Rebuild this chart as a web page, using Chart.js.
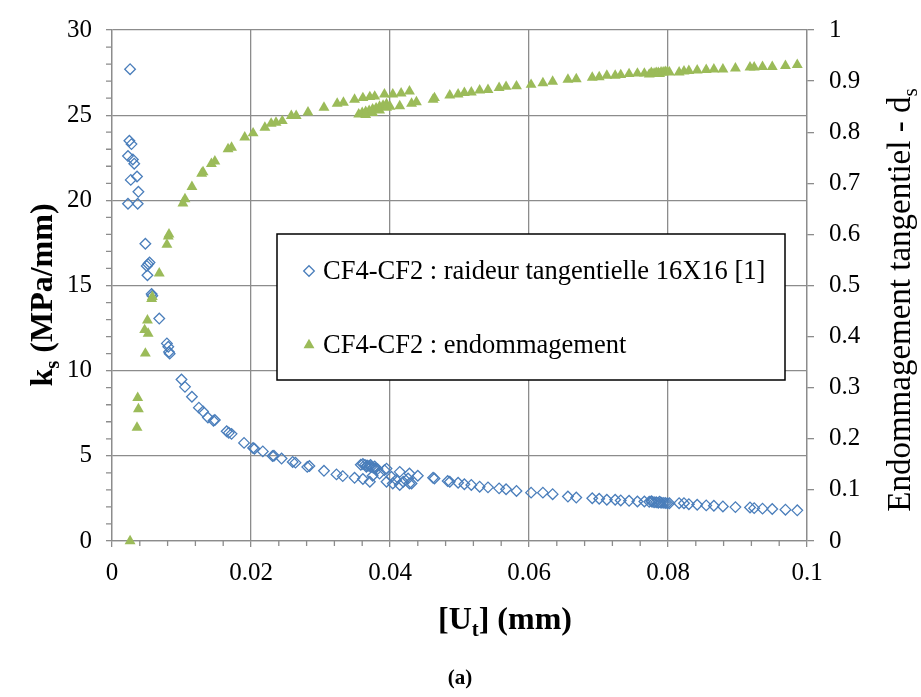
<!doctype html>
<html lang="fr">
  <head>
    <meta charset="utf-8">
    <title>ks / endommagement</title>
    <style>
      body { margin: 0; background: #fff; }
      .chartBox { width: 921px; height: 697px; }
    </style>
  </head>
  <body>
    <div class="chartBox">
      <canvas id="myChart"></canvas>
    </div>
    <script src="https://cdn.jsdelivr.net/npm/chart.js/dist/chart.umd.min.js"></script>
    <script>
    // raideur tangentielle ks (MPa/mm) vs [Ut] (mm)
    const ksU = [0.0026, 0.0025, 0.0028, 0.0023, 0.0030, 0.0032, 0.0027, 0.0036, 0.0038, 0.0023, 0.0037,
      0.0048, 0.0050, 0.0054, 0.0052, 0.0051, 0.0057, 0.0058, 0.0068, 0.0079, 0.0081, 0.0083, 0.0082,
      0.0100, 0.0105, 0.0115, 0.0125, 0.0131, 0.0138, 0.0146, 0.0148, 0.0165, 0.0168, 0.0172, 0.0190,
      0.0203, 0.0205, 0.0217, 0.0231, 0.0233, 0.0244, 0.0260, 0.0264, 0.0281, 0.0284, 0.0305, 0.0323,
      0.0332, 0.0349, 0.0361,
      0.0358, 0.0361, 0.0364, 0.0367, 0.0370, 0.0373, 0.0376, 0.0379, 0.0366, 0.0372, 0.0378, 0.0382,
      0.0371, 0.0375, 0.0385, 0.0392, 0.0395, 0.0395, 0.0402, 0.0404, 0.0409, 0.0414, 0.0414, 0.0419,
      0.0426, 0.0428, 0.0428, 0.0431, 0.0440, 0.0462, 0.0464, 0.0483, 0.0486, 0.0498, 0.0507, 0.0517,
      0.0529, 0.0541, 0.0557, 0.0567, 0.0582, 0.0603, 0.0620, 0.0634, 0.0656, 0.0668, 0.0691, 0.0701,
      0.0712, 0.0724, 0.0732, 0.0744, 0.0756, 0.0766,
      0.0773, 0.0776, 0.0777, 0.0780, 0.0783, 0.0786, 0.0788, 0.0790, 0.0793, 0.0796, 0.0799, 0.0802,
      0.0816, 0.0823, 0.0830, 0.0842, 0.0855, 0.0866, 0.0879, 0.0897, 0.0918, 0.0924, 0.0936, 0.0950,
      0.0969, 0.0986];
    const ksVal = [27.7, 23.5, 23.3, 22.6, 22.4, 22.15, 21.2, 21.4, 20.5, 19.8, 19.8,
      17.45, 16.15, 16.35, 16.25, 15.6, 14.5, 14.4, 13.06, 11.6, 11.4, 11.0, 11.1,
      9.48, 9.05, 8.47, 7.83, 7.6, 7.25, 7.06, 7.1, 6.44, 6.35, 6.29, 5.76,
      5.46, 5.42, 5.26, 4.99, 5.0, 4.84, 4.64, 4.6, 4.35, 4.4, 4.12, 3.91,
      3.81, 3.71, 3.64,
      4.48, 4.52, 4.47, 4.43, 4.40, 4.35, 4.30, 4.27, 4.36, 4.46, 4.38, 4.22,
      3.48, 3.83, 3.96, 4.16, 4.25, 3.48, 3.77, 3.38, 3.58, 4.06, 3.29, 3.48,
      3.67, 3.38, 3.96, 3.38, 3.83, 3.71, 3.67, 3.52, 3.48, 3.42, 3.33, 3.29,
      3.19, 3.15, 3.09, 3.04, 2.94, 2.84, 2.84, 2.75, 2.61, 2.55, 2.51, 2.48,
      2.42, 2.42, 2.38, 2.36, 2.32, 2.32,
      2.30, 2.34, 2.30, 2.28, 2.27, 2.25, 2.30, 2.25, 2.24, 2.23, 2.22, 2.22,
      2.22, 2.22, 2.16, 2.13, 2.09, 2.07, 2.03, 1.99, 1.97, 1.93, 1.90, 1.88,
      1.84, 1.80];

    // endommagement tangentiel ds vs [Ut] (mm)
    const dU = [0.0026, 0.0036, 0.0038, 0.0037, 0.0048, 0.0052, 0.0047, 0.0051, 0.0057, 0.0058, 0.0068,
      0.0079, 0.0081, 0.0082, 0.0102, 0.0105, 0.0115, 0.0129, 0.0131, 0.0143, 0.0148, 0.0167, 0.0172,
      0.0191, 0.0203, 0.0220, 0.0229, 0.0236, 0.0245, 0.0258, 0.0265, 0.0282, 0.0305, 0.0324, 0.0333,
      0.0349, 0.0361, 0.0371, 0.0378, 0.0392, 0.0404, 0.0416, 0.0428,
      0.0355, 0.0360, 0.0365, 0.0370, 0.0375, 0.0380, 0.0385, 0.0390, 0.0395, 0.0365, 0.0375, 0.0385,
      0.0395, 0.0400, 0.0414, 0.0431, 0.0438, 0.0462,
      0.0464, 0.0486, 0.0498, 0.0507, 0.0517, 0.0529, 0.0541, 0.0557, 0.0567, 0.0582, 0.0603, 0.0620,
      0.0634, 0.0656, 0.0668, 0.0691, 0.0701, 0.0712, 0.0724, 0.0732, 0.0744, 0.0756, 0.0766,
      0.0773, 0.0776, 0.0777, 0.0780, 0.0783, 0.0786, 0.0788, 0.0790, 0.0793, 0.0796, 0.0799, 0.0802,
      0.0816, 0.0823, 0.0830, 0.0842, 0.0855, 0.0866, 0.0879, 0.0897, 0.0918, 0.0924, 0.0936, 0.0950,
      0.0969, 0.0986];
    const dVal = [0.0, 0.222, 0.258, 0.28, 0.367, 0.406, 0.413, 0.432, 0.474, 0.478, 0.524,
      0.58, 0.596, 0.60, 0.661, 0.669, 0.693, 0.719, 0.722, 0.738, 0.743, 0.767, 0.770,
      0.790, 0.798, 0.809, 0.817, 0.819, 0.822, 0.832, 0.832, 0.839, 0.848, 0.856, 0.858,
      0.864, 0.867, 0.869, 0.870, 0.874, 0.874, 0.876, 0.880,
      0.835, 0.838, 0.840, 0.842, 0.845, 0.847, 0.850, 0.852, 0.855, 0.834, 0.838, 0.843,
      0.848, 0.850, 0.851, 0.856, 0.859, 0.864,
      0.867, 0.872, 0.874, 0.877, 0.878, 0.882, 0.883, 0.887, 0.889, 0.890, 0.893, 0.896,
      0.899, 0.903, 0.904, 0.907, 0.908, 0.911, 0.911, 0.912, 0.914, 0.915, 0.915,
      0.913, 0.916, 0.914, 0.915, 0.916, 0.916, 0.914, 0.917, 0.917, 0.918, 0.918, 0.917,
      0.917, 0.919, 0.920, 0.921, 0.922, 0.923, 0.923, 0.925, 0.927, 0.927, 0.928, 0.928,
      0.930, 0.932];

    const xTickLabels = ['0', '0.02', '0.04', '0.06', '0.08', '0.1'];
    const yTickLabels = ['0', '5', '10', '15', '20', '25', '30'];
    const y2TickLabels = ['0', '0.1', '0.2', '0.3', '0.4', '0.5', '0.6', '0.7', '0.8', '0.9', '1'];

    const seriesNames = ['CF4-CF2 : raideur tangentielle 16X16 [1]', 'CF4-CF2 : endommagement'];

    const FONT = '"Liberation Serif", "Times New Roman", serif';
    const GRID = '#8c8c8c';

    // text with subscript parts, drawn centred on (cx, baseline cy)
    function richWidth(ctx, parts, size, weight) {
      let w = 0;
      parts.forEach(p => {
        ctx.font = weight + ' ' + (p.sub ? size * 0.65 : size) + 'px ' + FONT;
        w += ctx.measureText(p.t).width;
      });
      return w;
    }
    function drawRich(ctx, parts, size, weight, cx, cy, angle) {
      ctx.save();
      ctx.translate(cx, cy);
      ctx.rotate(angle);
      let x = -richWidth(ctx, parts, size, weight) / 2;
      ctx.fillStyle = '#000';
      ctx.textBaseline = 'alphabetic';
      ctx.textAlign = 'left';
      parts.forEach(p => {
        ctx.font = weight + ' ' + (p.sub ? size * 0.65 : size) + 'px ' + FONT;
        ctx.fillText(p.t, x, p.sub ? size * 0.22 : 0);
        x += ctx.measureText(p.t).width;
      });
      ctx.restore();
    }

    const decorPlugin = {
      id: 'decor',
      afterDraw(chart) {
        const ctx = chart.ctx;
        const a = chart.chartArea;
        const sx = chart.scales.x, sy = chart.scales.y;

        // minor ticks
        ctx.save();
        ctx.strokeStyle = GRID;
        ctx.lineWidth = 1.3;
        ctx.beginPath();
        for (let i = 1; i < 25; i++) {
          if (i % 5 === 0) continue;
          const px = sx.getPixelForValue(i * 0.004);
          ctx.moveTo(px, a.bottom);
          ctx.lineTo(px, a.bottom + 5);
        }
        for (let i = 1; i < 30; i++) {
          if (i % 5 === 0) continue;
          const py = sy.getPixelForValue(i);
          ctx.moveTo(a.left, py);
          ctx.lineTo(a.left - 6, py);
        }
        ctx.stroke();
        ctx.restore();

        // axis titles
        drawRich(ctx, [{t: 'k'}, {t: 's', sub: true}, {t: ' (MPa/mm)'}], 32, 'bold', 52, 295, -Math.PI / 2);
        drawRich(ctx, [{t: 'Endommagement tangentiel - d'}, {t: 's', sub: true}], 33, 'normal', 910, 300, -Math.PI / 2);
        drawRich(ctx, [{t: '[U'}, {t: 't', sub: true}, {t: '] (mm)'}], 32, 'bold', 505, 629, 0);
        drawRich(ctx, [{t: '(a)'}], 21, 'bold', 460, 684, 0);

        // legend box
        const lx = a.left + 165, ly = a.top + 204, lw = 508, lh = 146;
        ctx.save();
        ctx.fillStyle = '#fff';
        ctx.fillRect(lx, ly, lw, lh);
        ctx.strokeStyle = '#000';
        ctx.lineWidth = 1.5;
        ctx.strokeRect(lx, ly, lw, lh);
        chart.data.datasets.forEach((ds, i) => {
          const my = ly + 37 + i * 74;
          ctx.save();
          ctx.strokeStyle = ds.borderColor;
          ctx.fillStyle = ds.backgroundColor;
          ctx.lineWidth = ds.borderWidth;
          Chart.helpers.drawPoint(ctx, {pointStyle: ds.pointStyle, radius: ds.pointRadius, borderWidth: ds.borderWidth}, lx + 32, my);
          ctx.restore();
          ctx.fillStyle = '#000';
          ctx.font = '26.5px ' + FONT;
          ctx.textBaseline = 'middle';
          ctx.textAlign = 'left';
          ctx.fillText(ds.label, lx + 46, my + 1);
        });
        ctx.restore();
      }
    };

    const data = {
      datasets: [{
        label: seriesNames[0],
        data: ksU.map((u, i) => ({x: u, y: ksVal[i]})),
        yAxisID: 'y',
        pointStyle: 'rectRot',
        pointRadius: 5.3,
        borderWidth: 1.3,
        borderColor: '#4a7ebb',
        backgroundColor: 'rgba(255,255,255,0)',
        order: 1,
        clip: false
      }, {
        label: seriesNames[1],
        data: dU.map((u, i) => ({x: u, y: dVal[i]})),
        yAxisID: 'y2',
        pointStyle: 'triangle',
        pointRadius: 6.3,
        borderWidth: 0,
        borderColor: '#9bbb59',
        backgroundColor: '#9bbb59',
        order: 0,
        clip: false
      }]
    };

    const tickFont = {family: FONT, size: 25};

    const config = {
      type: 'scatter',
      data,
      options: {
        responsive: true,
        maintainAspectRatio: false,
        animation: false,
        layout: { padding: {top: 21, left: 0, right: 0, bottom: 0} },
        plugins: { legend: {display: false}, tooltip: {enabled: false} },
        scales: {
          x: {
            type: 'linear', min: 0, max: 0.1,
            afterFit: s => { s.height = 156; },
            ticks: {
              stepSize: 0.02, font: tickFont, color: '#000', padding: 11,
              callback: v => xTickLabels[Math.round(v / 0.02)]
            },
            grid: { color: GRID, lineWidth: 1.3, tickLength: 6, tickColor: GRID },
            border: { color: GRID, width: 1.3 }
          },
          y: {
            position: 'left', min: 0, max: 30,
            afterFit: s => { s.width = 112; },
            ticks: {
              stepSize: 5, font: tickFont, color: '#000', padding: 14,
              callback: v => yTickLabels[Math.round(v / 5)]
            },
            grid: { color: GRID, lineWidth: 1.3, tickLength: 6, tickColor: GRID },
            border: { color: GRID, width: 1.3 }
          },
          y2: {
            position: 'right', min: 0, max: 1,
            afterFit: s => { s.width = 114; },
            ticks: {
              stepSize: 0.1, font: tickFont, color: '#000', padding: 15,
              callback: v => y2TickLabels[Math.round(v * 10)]
            },
            grid: { drawOnChartArea: false, lineWidth: 1.3, tickLength: 7, tickColor: GRID },
            border: { color: GRID, width: 1.3 }
          }
        }
      },
      plugins: [decorPlugin]
    };

    const myChart = new Chart(document.getElementById('myChart'), config);
    </script>
  </body>
</html>
